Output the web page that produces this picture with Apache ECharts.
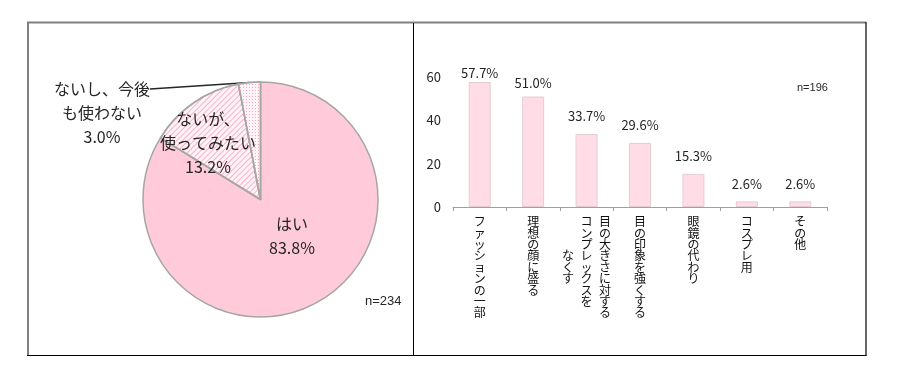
<!DOCTYPE html>
<html><head><meta charset="utf-8">
<script src="https://cdn.jsdelivr.net/npm/echarts@6/dist/echarts.min.js"></script>
<style>html,body{margin:0;padding:0;background:#fff}#c{width:900px;height:375px}</style>
</head><body><div id="c"></div>
<script>
// ---- data ----
const pieNames = ['はい', 'ないが、\n使ってみたい', 'ないし、今後\nも使わない'];
const pieValues = [83.8, 13.2, 3.0];
const pieNote = 'n=234';

const barCategories = ['ファッションの一部', '理想の顔に盛る', '目の大きさに対する\nコンプレックスを\nなくす', '目の印象を強くする', '眼鏡の代わり', 'コスプレ用', 'その他'];
const barValues = [57.7, 51.0, 33.7, 29.6, 15.3, 2.6, 2.6];
const barNote = 'n=196';
const yMin = 0, yMax = 60, yStep = 20;

// ---- helpers ----
const FONT = '"Noto Sans CJK JP", "Noto Sans", sans-serif';
const TXT = '#262626';

function verticalLabel(label) {
  const cols = label.split('\n').reverse(); // left-to-right order
  const n = Math.max(...cols.map(c => [...c].length));
  const rows = [];
  for (let i = 0; i < n; i++) {
    let row = '';
    cols.forEach(c => {
      const chars = [...c];
      const off = Math.floor((n - chars.length) / 2);
      const ch = chars[i - off];
      row += '{c|' + (ch || '\u3000') + '}';
    });
    rows.push(row);
  }
  return rows.join('\n');
}

const pieData = pieNames.map((name, i) => ({ name, value: pieValues[i] }));
// styles
pieData[0].itemStyle = { color: '#FFCBDB' };
pieData[1].itemStyle = {
  color: '#FFF3F7',
  decal: { symbol: 'rect', symbolSize: 1, color: '#F7B3C8', dashArrayX: [1, 0], dashArrayY: [1, 2.5], rotation: -Math.PI / 4 }
};
pieData[2].itemStyle = {
  color: '#FFF3F7',
  decal: { symbol: 'rect', symbolSize: 1, color: '#F4A9C0', dashArrayX: [1, 2], dashArrayY: [1, 2], rotation: 0 }
};
pieData[2].label = {
  position: 'outside',
  formatter: p => p.name.split('\n').map(s => '{a|' + s + '}').join('\n') + '\n{a|' + p.value.toFixed(1) + '%}',
  rich: { a: { align: 'center', fontSize: 16, lineHeight: 24, color: TXT, fontFamily: FONT } },
  padding: [48, 0, 0, 0],
  backgroundColor: 'rgba(255,255,255,0)'
};
pieData[2].labelLine = { show: true, length: 0, length2: 0, lineStyle: { color: '#262626', width: 1.5 } };

const labelDist = { 0: 2, 1: 7 };
const barData = barValues.map((v, i) => {
  const d = { value: v };
  if (labelDist[i] != null) d.label = { distance: labelDist[i] };
  return d;
});

const chart = echarts.init(document.getElementById('c'), null, { renderer: 'canvas' });
chart.setOption({
  animation: false,
  backgroundColor: '#fff',
  textStyle: { fontFamily: FONT },
  grid: { left: 453, right: 73, top: 77, bottom: 168 },
  xAxis: {
    type: 'category', data: barCategories,
    axisLine: { lineStyle: { color: '#A0A0A0', width: 1 } },
    axisTick: { show: true, length: 4, lineStyle: { color: '#A0A0A0' } },
    axisLabel: {
      interval: 0, margin: 9, hideOverlap: false,
      formatter: v => verticalLabel(v),
      rich: { c: { fontSize: 12, lineHeight: 11.4, width: 18.5, align: 'center', color: '#111', fontFamily: FONT } }
    }
  },
  yAxis: {
    type: 'value', min: yMin, max: yMax, interval: yStep,
    axisLine: { show: false }, axisTick: { show: false }, splitLine: { show: false },
    axisLabel: { fontSize: 13, color: TXT, margin: 12, fontFamily: FONT }
  },
  series: [
    {
      type: 'pie', center: [260.5, 199.5], radius: 117.5, startAngle: 90, clockwise: true,
      avoidLabelOverlap: false, silent: true,
      data: pieData,
      itemStyle: { borderColor: '#A6A6A6', borderWidth: 1.5 },
      label: {
        show: true, position: 'inside', fontSize: 16, lineHeight: 24, color: TXT, fontFamily: FONT,
        formatter: p => p.name + '\n' + p.value.toFixed(1) + '%'
      },
      labelLine: { show: false },
      labelLayout: p => {
        if (p.dataIndex === 0) return { x: 292, y: 236, align: 'center', verticalAlign: 'middle' };
        if (p.dataIndex === 1) return { x: 208, y: 143, align: 'center', verticalAlign: 'middle' };
        return { x: 150, y: 89, align: 'right', verticalAlign: 'middle' };
      }
    },
    {
      type: 'bar', data: barData, barWidth: 22, silent: true,
      itemStyle: { color: '#FFDCE6', borderColor: '#E3CDD4', borderWidth: 1 },
      label: { show: true, position: 'top', distance: 11, fontSize: 13, color: TXT, fontFamily: FONT,
        formatter: p => p.value.toFixed(1) + '%' }
    }
  ],
  graphic: [
    { type: 'line', shape: { x1: 27, y1: 22.5, x2: 866, y2: 22.5 }, style: { stroke: '#808080', lineWidth: 2 } },
    { type: 'line', shape: { x1: 28, y1: 22, x2: 28, y2: 356 }, style: { stroke: '#808080', lineWidth: 2 } },
    { type: 'line', shape: { x1: 27, y1: 355.5, x2: 866.5, y2: 355.5 }, style: { stroke: '#000', lineWidth: 1.2 } },
    { type: 'line', shape: { x1: 866, y1: 22, x2: 866, y2: 356 }, style: { stroke: '#000', lineWidth: 1.2 } },
    { type: 'line', shape: { x1: 413.5, y1: 23, x2: 413.5, y2: 356 }, style: { stroke: '#000', lineWidth: 1 } },
    { type: 'text', left: 365, top: 295, style: { text: pieNote, fontSize: 13, fill: TXT, font: '13px ' + FONT } },
    { type: 'text', left: 797, top: 82, style: { text: barNote, fontSize: 11, fill: TXT, font: '11px ' + FONT } }
  ]
});
</script>
</body></html>
